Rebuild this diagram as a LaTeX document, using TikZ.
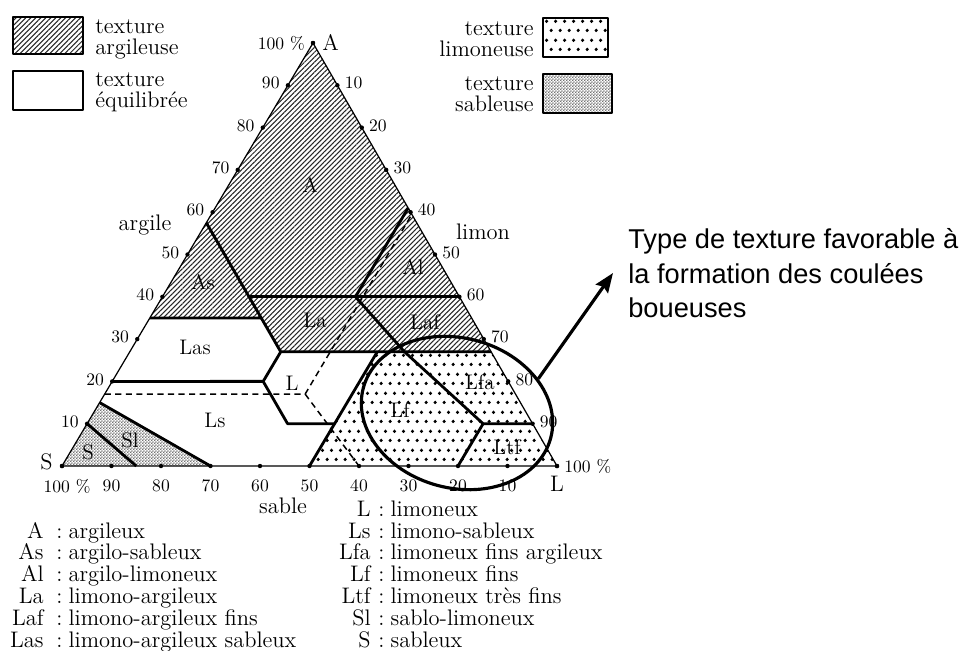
\documentclass[tikz,border=0pt]{standalone}
\usepackage{fontspec}
\newfontfamily\arialfont{Liberation Sans}
\usetikzlibrary{calc,patterns,patterns.meta,arrows.meta,shapes.geometric}

% motifs des textures
\pgfdeclarepatternformonly{limondots}{\pgfqpoint{0pt}{0pt}}{\pgfqpoint{5.3pt}{10.6pt}}{\pgfqpoint{5.3pt}{10.6pt}}{%
  \pgfpathcircle{\pgfqpoint{1.325pt}{2.65pt}}{1.05pt}%
  \pgfpathcircle{\pgfqpoint{3.975pt}{7.95pt}}{1.05pt}%
  \pgfusepath{fill}}
\pgfdeclarepatternformonly{sablegrain}{\pgfqpoint{0pt}{0pt}}{\pgfqpoint{1.6pt}{1.6pt}}{\pgfqpoint{1.6pt}{1.6pt}}{%
  \pgfpathrectangle{\pgfqpoint{0pt}{0pt}}{\pgfqpoint{0.8pt}{0.8pt}}%
  \pgfpathrectangle{\pgfqpoint{0.8pt}{0.8pt}}{\pgfqpoint{0.8pt}{0.8pt}}%
  \pgfusepath{fill}}

\begin{document}
\begin{tikzpicture}[x=0.02cm,y=-0.02cm,line join=round,
    trait/.style={line width=1.6pt},
    tiret/.style={line width=0.85pt,dash pattern=on 3.5pt off 2.5pt},
    cadre/.style={line width=1.1pt},
    argileuse/.style={pattern={Lines[angle=45,distance=2pt,line width=0.6pt]},pattern color=black!85},
    limoneuse/.style={pattern=limondots,pattern color=black},
    sableuse/.style={pattern=sablegrain,pattern color=black!55},
    nombre/.style={font=\fontsize{10}{12}\selectfont,inner sep=0pt},
    zone/.style={font=\fontsize{12}{14}\selectfont,inner sep=0pt},
    texte/.style={font=\fontsize{12.8}{14}\selectfont,inner sep=0pt}]
\useasboundingbox (0,0) rectangle (964,650);

% sommets
\coordinate (A) at (313,43);
\coordinate (S) at (62,466);
\coordinate (L) at (557,466);
% points des limites (argile, limon, sable)
\coordinate (a1) at (barycentric cs:A=.575,L=0,S=.425);
\coordinate (a2) at (barycentric cs:A=.35,L=0,S=.65);
\coordinate (a3) at (barycentric cs:A=.35,L=.225,S=.425);
\coordinate (a4) at (barycentric cs:A=.40,L=.175,S=.425);
\coordinate (a5) at (barycentric cs:A=.27,L=.305,S=.425);
\coordinate (r40) at (barycentric cs:A=.40,L=.60,S=0);
\coordinate (j1) at (barycentric cs:A=.40,L=.39,S=.21);
\coordinate (r61) at (barycentric cs:A=.61,L=.39,S=0);
\coordinate (j2) at (barycentric cs:A=.27,L=.555,S=.175);
\coordinate (r27) at (barycentric cs:A=.27,L=.73,S=0);
\coordinate (j3) at (barycentric cs:A=.10,L=.80,S=.10);
\coordinate (r10) at (barycentric cs:A=.10,L=.90,S=0);
\coordinate (b80) at (barycentric cs:A=0,L=.80,S=.20);
\coordinate (b50) at (barycentric cs:A=0,L=.50,S=.50);
\coordinate (m50) at (barycentric cs:A=.27,L=.50,S=.23);
\coordinate (l20) at (barycentric cs:A=.20,L=0,S=.80);
\coordinate (m20) at (barycentric cs:A=.20,L=.305,S=.495);
\coordinate (m10) at (barycentric cs:A=.10,L=.405,S=.495);
\coordinate (n10) at (barycentric cs:A=.10,L=.50,S=.40);
\coordinate (l15) at (barycentric cs:A=.15,L=0,S=.85);
\coordinate (l10) at (barycentric cs:A=.10,L=0,S=.90);
\coordinate (b30) at (barycentric cs:A=0,L=.30,S=.70);
\coordinate (b15) at (barycentric cs:A=0,L=.15,S=.85);
\coordinate (d0) at (barycentric cs:A=.17,L=0,S=.83);
\coordinate (dc) at (barycentric cs:A=.17,L=.405,S=.425);
\coordinate (dt) at (barycentric cs:A=.595,L=.405,S=0);
\coordinate (db) at (barycentric cs:A=0,L=.60,S=.40);

% remplissages
\path[argileuse] (A) -- (a2) -- (a3) -- (a5) -- (r27) -- cycle;
\path[limoneuse] (m50) -- (r27) -- (L) -- (b50) -- cycle;
\path[sableuse] (S) -- (l15) -- (b30) -- cycle;

% limites des classes
\draw[trait] (a1) -- (a5) -- (r27);
\draw[trait] (a2) -- (a3);
\draw[trait] (a4) -- (r40);
\draw[trait] (r61) -- (j1) -- (j2) -- (j3) -- (r10);
\draw[trait] (j3) -- (b80);
\draw[trait] (l20) -- (m20) -- (a5);
\draw[trait] (m20) -- (m10) -- (n10);
\draw[trait] (b50) -- (m50);
\draw[trait] (l15) -- (b30);
\draw[trait] (l10) -- (b15);
\draw[tiret] (d0) -- (dc) -- (dt);
\draw[tiret] (dc) -- (db);
\draw[line width=0.7pt] (A) -- (L) -- (S) -- cycle;

% graduations
\foreach \v in {0,10,...,100} {
  \fill ($(S)!\v/100!(A)$) circle (2.2);
  \fill ($(A)!\v/100!(L)$) circle (2.2);
  \fill ($(S)!\v/100!(L)$) circle (2.2);
}
\foreach \v in {10,20,...,90} {
  \node[nombre,anchor=east] (ga\v) at ($(S)!\v/100!(A)+(-8,-2)$) {\v};
  \node[nombre,anchor=west] (dr\v) at ($(A)!\v/100!(L)+(7,-2)$) {\v};
  \node[nombre,anchor=north] (ba\v) at ($(L)!\v/100!(S)+(0,13)$) {\v};
}
\node[nombre,anchor=east] (ga100) at ($(A)+(-8,0)$) {100 \%};
\node[nombre,anchor=west] (dr100) at ($(L)+(7,0)$) {100 \%};
\node[nombre,anchor=north] (ba100) at ($(S)+(5,13)$) {100 \%};
\node[texte,anchor=west] (sA) at ($(A)+(9,-1)$) {A};
\node[texte,anchor=east] (sS) at ($(S)+(-9,-4)$) {S};
\node[texte,anchor=north] (sL) at ($(L)+(0,10)$) {L};
\node[texte] (argile) at (145,225) {argile};
\node[texte] (limon) at (483,232) {limon};
\node[texte] (sable) at (283,506) {sable};

% noms des classes
\node[zone] (zA) at (310,185) {A};
\node[zone] (zAs) at (203,282) {As};
\node[zone] (zAl) at (413,267) {Al};
\node[zone] (zLa) at (315,320) {La};
\node[zone] (zLaf) at (425,322) {Laf};
\node[zone] (zLas) at (195,347) {Las};
\node[zone] (zL) at (292,383) {L};
\node[zone] (zLs) at (215,420) {Ls};
\node[zone] (zSl) at (130,440) {Sl};
\node[zone] (zS) at (88,452) {S};
\node[zone] (zLfa) at (480,382) {Lfa};
\node[zone] (zLf) at (400,410) {Lf};
\node[zone] (zLtf) at (507,447) {Ltf};

% legendes des motifs
\draw[cadre,argileuse] (13,17) rectangle (83,54);
\draw[cadre] (13,71) rectangle (83,110);
\draw[cadre,limoneuse] (543,18) rectangle (608,57);
\draw[cadre,sableuse] (543,74) rectangle (612,113);
\node[texte,anchor=west,align=left] (tArg) at (95,39) {texture\\[-2pt]argileuse};
\node[texte,anchor=west,align=left] (tEqu) at (95,92) {texture\\[-2pt]équilibrée};
\node[texte,anchor=east,align=right] (tLim) at (534,39) {texture\\[-2pt]limoneuse};
\node[texte,anchor=east,align=right] (tSab) at (534,94) {texture\\[-2pt]sableuse};

% liste des classes
\foreach \ab/\txt [count=\i] in {A/argileux,As/argilo-sableux,Al/argilo-limoneux,La/limono-argileux,Laf/limono-argileux fins,Las/limono-argileux sableux}{
  \node[texte,anchor=base east] (cg\i) at (44,{516.2+21.8*\i}) {\ab};
  \node[texte,anchor=base west] (dg\i) at (56,{516.2+21.8*\i}) {:\hspace{3.5pt}\txt};
}
\foreach \ab/\txt [count=\i] in {L/limoneux,Ls/limono-sableux,Lfa/limoneux fins argileux,Lf/limoneux fins,Ltf/limoneux très fins,Sl/sablo-limoneux,S/sableux}{
  \node[texte,anchor=base east] (cd\i) at (371,{494.4+21.8*\i}) {\ab};
  \node[texte,anchor=base west] (dd\i) at (378,{494.4+21.8*\i}) {:\hspace{3.5pt}\txt};
}

% zone favorable aux coulees
\node[draw,ellipse,line width=1.8pt,minimum width=3.88cm,minimum height=3cm,rotate=-15] (coulee) at (457,413) {};
\coordinate (pointe) at (613,273);
\draw[line width=1.8pt,-{Stealth[length=11pt,width=8.5pt,inset=1.5pt]}] (coulee.north east) -- (pointe);
\node[font=\arialfont\fontsize{15.5}{19.8}\selectfont,align=left,anchor=north west,inner sep=0pt] (favorable) at (628,228) {Type de texture favorable à\\la formation des coulées\\boueuses};
\end{tikzpicture}
\end{document}
